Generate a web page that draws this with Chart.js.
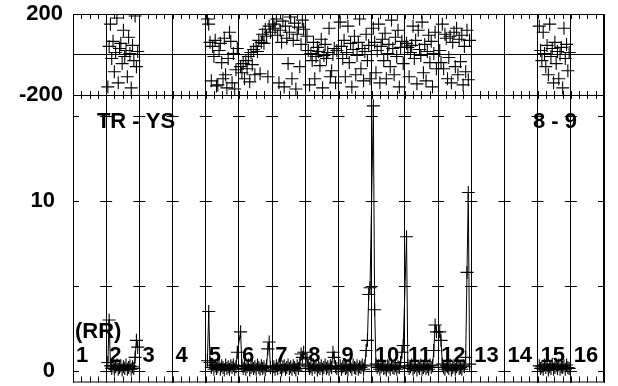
<!DOCTYPE html>
<html>
<head>
<meta charset="utf-8">
<script src="https://cdn.jsdelivr.net/npm/chart.js@4.4.1/dist/chart.umd.min.js"></script>
<style>
  html, body { margin: 0; padding: 0; background: #fff; }
</style>
</head>
<body>
<canvas id="scanChart" width="618" height="386"></canvas>
<script>
// channel labels along the bottom, one per unit of the x axis
var channelLabels = ['1', '2', '3', '4', '5', '6', '7', '8', '9', '10', '11', '12', '13', '14', '15', '16'];
var phaseTicks = [-200, 0, 200];
var ampTicks = [0, 10];
var ampMarks = [0, 5, 10, 15];

// phase (deg) per scan
var phase2 = [-160, 40, 150, -20, 65, -85, 10, 180, -140, 30, 55, -45, 120, -10, 20, -110, 85, 5, -165, 45, -30, 190, -60, 15];
var phase5 = [175, 150, 60, -130, 40, -10, 70, -155, -150, 20, 55, -40, -120, 80, -100, -165, -20, 110, 65, -140, 5, -170, -75, 30];
var phase6 = [-60, -90, -45, -120, -30, -70, -10, -135, 10, -50, 25, -100, 40, 15, 70, -95, 60, 100, 55, 125, 90, -110, 140, 110];
var phase7 = [150, 130, 175, 95, -140, 120, 60, 165, -160, 140, 80, -45, 110, 185, -120, 70, 155, -170, 100, 135, -60, 50, 170, 125];
var phase8 = [90, 20, -150, 5, -30, 60, -120, -10, 35, 15, -55, 75, -165, -5, 50, -20, 10, 130, -110, -80, 0, 30, -140, 20];
var phase9 = [160, 40, -20, 70, -110, 10, 140, -40, 55, -160, 25, 90, -100, -5, 60, 175, -70, 30, -130, 15, 100, -30, 45, -120];
var phase10 = [130, 60, -90, 20, 150, -140, 40, 75, -30, 105, -120, 5, 50, -60, 170, 30, -100, 85, -10, 120, -160, 35, 65, -45];
var phase11 = [55, 35, -110, 10, 45, 140, -20, 70, -145, 120, 25, -5, 160, -90, 50, -130, 15, 95, -40, 65, -160, 5, 110, -70];
var phase12 = [20, -40, 150, -70, 100, 80, -120, -15, 90, -140, 60, 110, -60, 130, -100, 75, -35, 95, -150, 40, -85, 120, -125, 70];
var phase15 = [140, 20, -30, 110, 5, -60, 45, -100, 150, -10, 30, -140, 60, -45, 15, -120, 0, 35, -165, 130, -20, 50, -80, 10];

// amplitude per scan
var amp2 = [0.5, 3.0, 0.3, 0.15, 0.3, 0.1, 0.25, 0.35, 0.1, 0.2, 0.3, 0.05, 0.25, 0.15, 0.35, 0.1, 0.2, 0.3, 0.1, 0.25, 0.15, 0.8, 1.8, 1.4];
var amp5 = [0.6, 3.5, 0.5, 0.2, 0.35, 0.1, 0.3, 0.15, 0.25, 0.4, 0.1, 0.3, 0.2, 0.05, 0.35, 0.15, 0.25, 0.1, 0.3, 0.2, 0.35, 0.1, 0.25, 1.1];
var amp6 = [2.3, 0.3, 0.15, 0.3, 0.1, 0.25, 0.35, 0.05, 0.2, 0.3, 0.15, 0.25, 0.1, 0.35, 0.2, 0.1, 0.3, 0.15, 0.25, 0.05, 0.3, 1.3, 1.7, 0.2];
var amp7 = [0.25, 0.1, 0.3, 0.15, 0.35, 0.2, 0.05, 0.25, 0.3, 0.1, 0.2, 0.35, 0.15, 0.25, 0.1, 0.3, 0.2, 0.05, 0.3, 0.15, 0.4, 1.0, 0.8, 1.1];
var amp8 = [0.7, 0.3, 0.15, 0.25, 0.1, 0.35, 0.2, 0.3, 0.05, 0.25, 0.15, 0.3, 0.1, 0.2, 0.35, 0.15, 0.25, 0.1, 0.3, 0.2, 1.1, 0.8, 0.25, 0.15];
var amp9 = [0.3, 0.1, 0.25, 0.35, 0.15, 0.2, 0.05, 0.3, 0.25, 0.1, 0.35, 0.2, 0.15, 0.3, 0.1, 0.25, 0.2, 0.35, 0.1, 0.3, 1.2, 1.8, 4.5, 4.9];
var amp10 = [15.6, 3.6, 0.4, 0.2, 0.3, 0.1, 0.25, 0.35, 0.15, 0.2, 0.05, 0.3, 0.25, 0.1, 0.35, 0.2, 0.15, 0.3, 0.1, 0.25, 0.2, 0.5, 1.1, 1.5];
var amp11 = [7.9, 0.3, 0.15, 0.25, 0.35, 0.1, 0.2, 0.3, 0.05, 0.25, 0.15, 0.35, 0.1, 0.2, 0.3, 0.15, 0.25, 0.1, 0.35, 0.2, 0.3, 1.2, 2.7, 2.3];
var amp12 = [2.3, 1.8, 0.4, 0.2, 0.1, 0.3, 0.25, 0.15, 0.35, 0.05, 0.2, 0.3, 0.1, 0.25, 0.35, 0.15, 0.2, 0.1, 0.3, 0.25, 0.8, 5.8, 10.5, 0.4];
var amp15 = [0.3, 0.15, 0.25, 0.1, 0.35, 0.2, 0.3, 0.05, 0.25, 0.15, 0.4, 0.1, 0.2, 0.3, 0.15, 0.35, 0.1, 0.25, 0.2, 0.3, 0.1, 0.35, 0.2, 0.15];

var FONT = '"Liberation Sans", Arial, sans-serif';
var INK = '#000';

// samples of one scan sit inside the unit that starts at 'start'
function scanPoints(start, values) {
    var n = values.length;
    return values.map(function (v, k) {
        return { x: start + 0.05 + k * 0.9 / (n - 1), y: v };
    });
}

var phasePoints = []
    .concat(scanPoints(1, phase2), scanPoints(4, phase5), scanPoints(5, phase6), scanPoints(6, phase7),
        scanPoints(7, phase8), scanPoints(8, phase9), scanPoints(9, phase10), scanPoints(10, phase11),
        scanPoints(11, phase12), scanPoints(14, phase15));

var ampRun = [].concat(scanPoints(4, amp5), scanPoints(5, amp6), scanPoints(6, amp7), scanPoints(7, amp8),
    scanPoints(8, amp9), scanPoints(9, amp10), scanPoints(10, amp11), scanPoints(11, amp12));

function ampSet(points) {
    return {
        data: points, yAxisID: 'yA', showLine: true,
        borderColor: '#000', borderWidth: 1, tension: 0,
        pointStyle: 'cross', pointRadius: 6.5, pointBorderColor: INK, pointBorderWidth: 1.1
    };
}

// keep the axis from reserving extra room for its end labels
function fixWidth(s) {
    s.width = 73;
    s.paddingTop = 0;
    s.paddingBottom = 0;
}

// frame ticks, tick crosses and the text labels
var panelMarks = {
    id: 'panelMarks',
    afterDraw: function (chart) {
        var ctx = chart.ctx, a = chart.chartArea;
        var x = chart.scales.x, yP = chart.scales.yP, yA = chart.scales.yA;
        ctx.save();
        ctx.strokeStyle = '#000';
        ctx.lineWidth = 1;
        ctx.strokeRect(a.left + 0.5, a.top + 0.5, a.right - a.left - 1, a.bottom - a.top - 1);
        ctx.beginPath();
        for (var k = 0; k <= 64; k++) {
            var px = Math.round(x.getPixelForValue(k / 4)) + 0.5;
            ctx.moveTo(px, a.top); ctx.lineTo(px, a.top + 5);
            ctx.moveTo(px, yP.bottom - 4); ctx.lineTo(px, yP.bottom + 4);
            ctx.moveTo(px, a.bottom); ctx.lineTo(px, a.bottom - 6);
        }
        for (var i = 0; i <= 16; i++) {
            var gx = x.getPixelForValue(i);
            ampMarks.forEach(function (v) {
                var py = Math.round(yA.getPixelForValue(v)) + 0.5;
                ctx.moveTo(Math.max(a.left, gx - 6), py);
                ctx.lineTo(Math.min(a.right, gx + 6), py);
            });
        }
        ctx.stroke();

        ctx.fillStyle = '#000';
        ctx.font = 'bold 22px ' + FONT;
        ctx.textAlign = 'left';
        ctx.textBaseline = 'alphabetic';
        channelLabels.forEach(function (lab, i) {
            ctx.fillText(lab, x.getPixelForValue(i) + 3, yA.getPixelForValue(0.53));
        });
        ctx.fillText('(RR)', x.getPixelForValue(0.06), yA.getPixelForValue(1.94));
        ctx.fillText('TR - YS', x.getPixelForValue(0.72), yA.getPixelForValue(14.3));
        ctx.fillText('8 - 9', x.getPixelForValue(13.86), yA.getPixelForValue(14.3));
        ctx.restore();
    }
};

var ctx = document.getElementById('scanChart').getContext('2d');
var scanChart = new Chart(ctx, {
    type: 'scatter',
    data: {
        datasets: [
            {
                data: phasePoints, yAxisID: 'yP', showLine: false,
                pointStyle: 'cross', pointRadius: 6.5, pointBorderColor: INK, pointBorderWidth: 1.1
            },
            ampSet(scanPoints(1, amp2)),
            ampSet(ampRun),
            ampSet(scanPoints(14, amp15))
        ]
    },
    options: {
        responsive: false,
        animation: false,
        layout: { autoPadding: false, padding: { left: 0, right: 14, top: 14, bottom: 3.5 } },
        plugins: { legend: { display: false }, tooltip: { enabled: false } },
        scales: {
            x: {
                type: 'linear', min: 0, max: 16,
                afterFit: function (s) { s.height = 0; },
                ticks: { display: false, stepSize: 1 },
                grid: { color: '#000', lineWidth: 1, drawTicks: false },
                border: { display: false }
            },
            yA: {
                type: 'linear', position: 'left', stack: 'panels', stackWeight: 287.5,
                min: -0.68, max: 16.24,
                afterBuildTicks: function (s) { s.ticks = ampTicks.map(function (v) { return { value: v }; }); },
                afterFit: fixWidth,
                ticks: { color: '#000', font: { family: FONT, size: 22, weight: 'bold' }, padding: 10, autoSkip: false },
                grid: { display: false },
                border: { color: '#000' }
            },
            yP: {
                type: 'linear', position: 'left', stack: 'panels', stackWeight: 81,
                min: -200, max: 200,
                afterBuildTicks: function (s) { s.ticks = phaseTicks.map(function (v) { return { value: v }; }); },
                afterFit: fixWidth,
                ticks: {
                    color: '#000', font: { family: FONT, size: 22, weight: 'bold' }, padding: 10, autoSkip: false,
                    callback: function (v) { return v === 0 ? '' : v; }
                },
                grid: { color: '#000', lineWidth: 1, drawTicks: false },
                border: { color: '#000' }
            }
        }
    },
    plugins: [panelMarks]
});
</script>
</body>
</html>
